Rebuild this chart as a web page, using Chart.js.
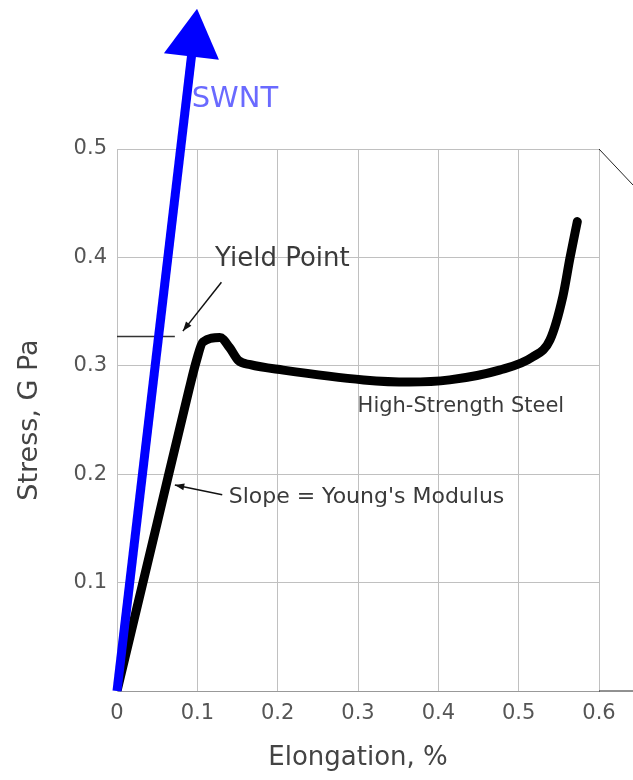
<!DOCTYPE html>
<html>
<head>
<meta charset="utf-8">
<script src="https://cdn.jsdelivr.net/npm/chart.js@4.4.1/dist/chart.umd.min.js"></script>
<style>
  html, body { margin: 0; padding: 0; background: #fff; }
  #wrap { width: 633px; height: 780px; }
</style>
</head>
<body>
<div id="wrap"><canvas id="myChart"></canvas></div>
<script>
// steel stress-strain curve (elongation %, stress GPa)
const steelStrain = [0, 0.05, 0.09, 0.099, 0.107, 0.128, 0.14, 0.151, 0.166, 0.207, 0.307, 0.364, 0.414, 0.476, 0.517, 0.539, 0.555, 0.564, 0.573];
const steelStress = [0, 0.155, 0.279, 0.305, 0.322, 0.326, 0.317, 0.305, 0.301, 0.296, 0.287, 0.285, 0.287, 0.296, 0.308, 0.324, 0.364, 0.40, 0.433];
// SWNT arrow (last point = centre of arrow head)
const swntStrain = [0, 0.095];
const swntStress = [0, 0.60];
// yield point tick
const yieldStrain = [0, 0.072];
const yieldStress = [0.327, 0.327];
const xTicks = [0, 0.1, 0.2, 0.3, 0.4, 0.5, 0.6];
const yTicks = [0, 0.1, 0.2, 0.3, 0.4, 0.5];

function pts(xs, ys) {
    return xs.map((x, i) => ({ x: x, y: ys[i] }));
}

const FONT = '"DejaVu Sans", sans-serif';

const notes = {
    id: 'notes',
    afterDatasetsDraw(chart) {
        const ctx = chart.ctx;
        const xs = chart.scales.x, ys = chart.scales.y;
        const px = v => xs.getPixelForValue(v), py = v => ys.getPixelForValue(v);
        const a = chart.chartArea;
        ctx.save();

        // arrow head on the SWNT line
        const el = chart.getDatasetMeta(2).data;
        const p0 = el[0], p1 = el[1];
        const ang = Math.atan2(p1.y - p0.y, p1.x - p0.x);
        const r = 32;
        ctx.fillStyle = '#0000ff';
        ctx.beginPath();
        for (let k = 0; k < 3; k++) {
            const t = ang + k * 2 * Math.PI / 3;
            const X = p1.x + r * Math.cos(t), Y = p1.y + r * Math.sin(t);
            if (k === 0) ctx.moveTo(X, Y); else ctx.lineTo(X, Y);
        }
        ctx.closePath();
        ctx.fill();

        // stray lines at right edge
        ctx.strokeStyle = '#222';
        ctx.lineWidth = 1;
        ctx.beginPath();
        ctx.moveTo(a.right, a.top);
        ctx.lineTo(a.right + 34, a.top + 36);
        ctx.moveTo(a.right, a.bottom);
        ctx.lineTo(a.right + 40, a.bottom);
        ctx.stroke();

        function text(s, x, y, size, color) {
            ctx.font = size + 'px ' + FONT;
            ctx.fillStyle = color;
            ctx.textAlign = 'left';
            ctx.textBaseline = 'middle';
            ctx.fillText(s, px(x), py(y));
        }
        function arrow(x1, y1, x2, y2) {
            const X1 = px(x1), Y1 = py(y1), X2 = px(x2), Y2 = py(y2);
            const an = Math.atan2(Y2 - Y1, X2 - X1);
            ctx.strokeStyle = '#111';
            ctx.fillStyle = '#111';
            ctx.lineWidth = 1.5;
            ctx.beginPath();
            ctx.moveTo(X1, Y1);
            ctx.lineTo(X2, Y2);
            ctx.stroke();
            ctx.beginPath();
            ctx.moveTo(X2, Y2);
            ctx.lineTo(X2 - 10 * Math.cos(an - 0.35), Y2 - 10 * Math.sin(an - 0.35));
            ctx.lineTo(X2 - 10 * Math.cos(an + 0.35), Y2 - 10 * Math.sin(an + 0.35));
            ctx.closePath();
            ctx.fill();
        }
        text('SWNT', 0.093, 0.546, 29, '#6a6aff');
        text('Yield Point', 0.122, 0.398, 26, '#3a3a3a');
        arrow(0.130, 0.377, 0.082, 0.332);
        text('High-Strength Steel', 0.2995, 0.262, 21, '#3a3a3a');
        text('Slope = Young\'s Modulus', 0.139, 0.179, 22, '#3a3a3a');
        arrow(0.131, 0.181, 0.072, 0.190);
        ctx.restore();
    }
};

const config = {
    type: 'scatter',
    data: {
        datasets: [{
            label: 'High-Strength Steel',
            data: pts(steelStrain, steelStress),
            showLine: true,
            borderColor: '#000',
            borderWidth: 9,
            borderCapStyle: 'round',
            borderJoinStyle: 'round',
            cubicInterpolationMode: 'monotone',
            pointRadius: 0,
            order: 3
        }, {
            label: 'yield',
            data: pts(yieldStrain, yieldStress),
            showLine: true,
            borderColor: '#333',
            borderWidth: 1.5,
            pointRadius: 0,
            order: 2
        }, {
            label: 'SWNT',
            data: pts(swntStrain, swntStress),
            showLine: true,
            clip: false,
            borderColor: '#0000ff',
            borderWidth: 9,
            pointRadius: 0,
            order: 1
        }]
    },
    options: {
        responsive: true,
        maintainAspectRatio: false,
        animation: false,
        events: [],
        layout: { padding: { top: 149, right: 34, left: 0, bottom: 0 } },
        plugins: { legend: { display: false }, tooltip: { enabled: false } },
        scales: {
            x: {
                type: 'linear',
                min: 0, max: 0.6,
                afterBuildTicks: s => { s.ticks = xTicks.map(v => ({ value: v })); },
                afterFit: s => { s.height = 89; },
                grid: { color: '#c0c0c0', lineWidth: 1, drawTicks: false },
                border: { color: '#999' },
                ticks: {
                    padding: 10,
                    color: '#555',
                    font: { family: FONT, size: 21 },
                    callback: v => String(v)
                },
                title: {
                    display: true,
                    text: 'Elongation, %',
                    color: '#444',
                    font: { family: FONT, size: 26 },
                    padding: { top: 8, bottom: 6 }
                }
            },
            y: {
                type: 'linear',
                min: 0, max: 0.5,
                afterBuildTicks: s => { s.ticks = yTicks.map(v => ({ value: v })); },
                afterFit: s => { s.width = 117; },
                grid: { color: '#c0c0c0', lineWidth: 1, drawTicks: false },
                border: { color: '#c0c0c0' },
                ticks: {
                    padding: 10,
                    color: '#555',
                    font: { family: FONT, size: 21 },
                    callback: v => v === 0 ? '' : String(v)
                },
                title: {
                    display: true,
                    text: 'Stress, G Pa',
                    color: '#444',
                    font: { family: FONT, size: 27 },
                    padding: { top: 14 }
                }
            }
        }
    },
    plugins: [notes]
};

window.onload = function () {
    new Chart(document.getElementById('myChart'), config);
};
</script>
</body>
</html>
